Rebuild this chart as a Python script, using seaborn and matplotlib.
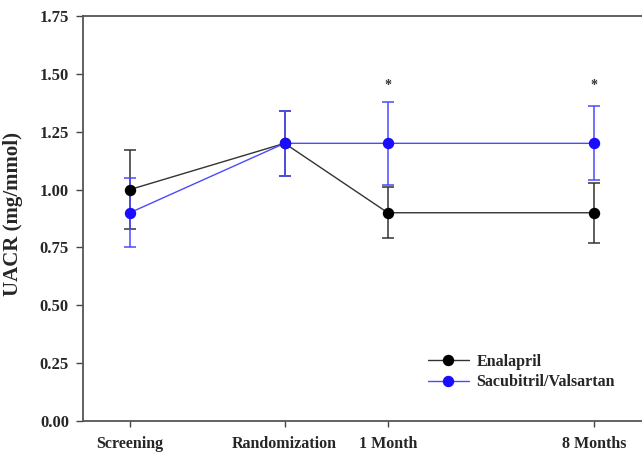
import pandas as pd
import seaborn as sns
import matplotlib.pyplot as plt

# Data
timepoints = ["Screening", "Randomization", "1 Month", "8 Months"]
enalapril = [1.00, 1.20, 0.90, 0.90]
enalapril_err = [0.17, 0.14, 0.11, 0.13]
sacval = [0.90, 1.20, 1.20, 1.20]
sacval_err = [0.15, 0.14, 0.18, 0.16]
star_points = ["1 Month", "8 Months"]
star_level = 1.45

# uneven spacing of the time axis, as in the original figure
tick_pos = [0, 1.5, 2.5, 4.5]
pos = dict(zip(timepoints, tick_pos))

df = pd.DataFrame({
    "time": timepoints * 2,
    "x": tick_pos * 2,
    "uacr": enalapril + sacval,
    "err": enalapril_err + sacval_err,
    "group": ["Enalapril"] * 4 + ["Sacubitril/Valsartan"] * 4,
})

sns.set_style("ticks")
plt.rcParams["font.family"] = ["Liberation Serif", "DejaVu Serif"]
plt.rcParams["font.weight"] = "bold"

fig = plt.figure(figsize=(6.42, 4.53), dpi=100)
ax = fig.add_axes([0.129, 0.0706, 0.88, 0.894])

colors = {"Enalapril": "black", "Sacubitril/Valsartan": "#1a0dff"}
line_colors = {"Enalapril": "#333333", "Sacubitril/Valsartan": "#4a4aff"}

for name, sub in df.groupby("group", sort=False):
    ax.errorbar(sub["x"], sub["uacr"], yerr=sub["err"], fmt="none",
                ecolor=line_colors[name], elinewidth=1.1, capsize=4.3,
                capthick=1.1, zorder=2)

sns.lineplot(data=df, x="x", y="uacr", hue="group", palette=line_colors,
             linewidth=1.0, ax=ax, legend=False, zorder=3, sort=False)
for name, sub in df.groupby("group", sort=False):
    ax.plot(sub["x"], sub["uacr"], linestyle="none", marker="o",
            markersize=7.2, color=colors[name], zorder=4)

for t in star_points:
    ax.text(pos[t], star_level, "*", ha="center", va="center",
            fontsize=10, color="#333333")

# legend handles
for name in ["Enalapril", "Sacubitril/Valsartan"]:
    ax.plot([], [], color=line_colors[name], linewidth=1.0, marker="o",
            markersize=7.2, markerfacecolor=colors[name],
            markeredgecolor=colors[name], label=name)
leg = ax.legend(loc="lower left", bbox_to_anchor=(0.585, 0.04), frameon=False,
                handlelength=2.6, handletextpad=0.45, labelspacing=0.3,
                prop={"family": "Liberation Serif", "weight": "bold", "size": 11.5})

ax.set_xlim(-0.456, 5.02)
ax.set_ylim(0, 1.75)
ax.set_xticks(tick_pos)
ax.set_xticklabels(timepoints)
ax.set_yticks([0, 0.25, 0.5, 0.75, 1.0, 1.25, 1.5, 1.75])
ax.set_yticklabels([f"{v:.2f}" for v in ax.get_yticks()])
ax.set_xlabel("")
ax.set_ylabel("UACR (mg/mmol)", fontsize=15, fontweight="bold", labelpad=6)
ax.yaxis.set_label_coords(-0.105, 0.51)
ax.tick_params(axis="y", labelsize=12, length=5, width=1, color="#444444",
               pad=5)
ax.tick_params(axis="x", labelsize=11.5, length=4, width=1, color="#444444",
               pad=7)
for lab in ax.get_xticklabels() + ax.get_yticklabels():
    lab.set_fontweight("bold")
for s in ax.spines.values():
    s.set_color("#555555")
    s.set_linewidth(1.3)

fig.savefig("out.png", dpi=100)
